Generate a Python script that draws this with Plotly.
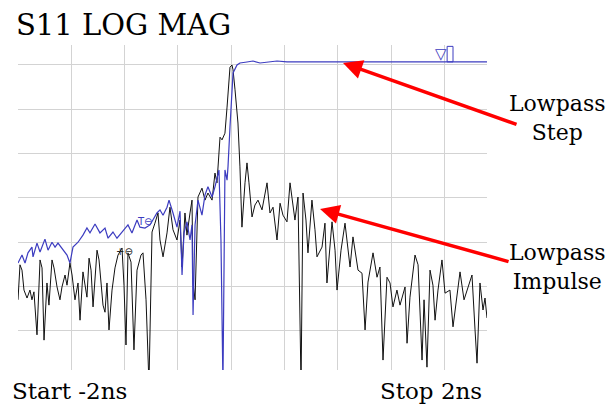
import plotly.graph_objects as go

# ---- data (time in ns, magnitude in dB) ----
impulse_t = [-2.000, -1.983, -1.966, -1.949, -1.923, -1.898, -1.881, -1.864, -1.838, -1.812,
             -1.795, -1.778, -1.753, -1.736, -1.710, -1.693, -1.667, -1.642, -1.625, -1.599,
             -1.582, -1.557, -1.539, -1.514, -1.488, -1.471, -1.446, -1.429, -1.412, -1.394,
             -1.377, -1.360, -1.326, -1.309, -1.292, -1.275, -1.258, -1.241, -1.224, -1.198,
             -1.173, -1.147, -1.113, -1.096, -1.079, -1.062, -1.036, -1.011, -0.985, -0.951,
             -0.934, -0.908, -0.883, -0.857, -0.832, -0.806, -0.789, -0.763, -0.729, -0.704,
             -0.678, -0.644, -0.618, -0.601, -0.576, -0.559, -0.533, -0.516, -0.507, -0.490,
             -0.465, -0.431, -0.405, -0.380, -0.345, -0.320, -0.303, -0.277, -0.260, -0.235,
             -0.217, -0.192, -0.175, -0.166, -0.149, -0.124, -0.107, -0.090, -0.064, -0.047,
             -0.030, -0.004, 0.021, 0.047, 0.081, 0.107, 0.124, 0.149, 0.175, 0.209,
             0.235, 0.260, 0.294, 0.320, 0.345, 0.362, 0.388, 0.414, 0.431, 0.456,
             0.473, 0.507, 0.533, 0.550, 0.593, 0.618, 0.635, 0.678, 0.704, 0.721,
             0.755, 0.789, 0.832, 0.857, 0.900, 0.934, 0.960, 0.985, 1.028, 1.062,
             1.087, 1.113, 1.147, 1.173, 1.198, 1.232, 1.258, 1.301, 1.318, 1.343,
             1.386, 1.412, 1.446, 1.463, 1.488, 1.514, 1.539, 1.557, 1.582, 1.616,
             1.642, 1.684, 1.710, 1.744, 1.770, 1.804, 1.829, 1.872, 1.898, 1.915,
             1.940, 1.966, 1.983, 2.000]
impulse_db = [-53.0, -45.1, -46.3, -50.8, -52.6, -50.8, -53.0, -51.2, -60.9, -44.0,
              -45.8, -62.1, -49.2, -54.2, -44.0, -45.8, -50.1, -53.0, -50.1, -47.4,
              -49.7, -44.7, -47.4, -53.0, -49.2, -57.6, -46.7, -49.7, -52.4, -43.6,
              -46.3, -54.6, -41.8, -44.0, -49.7, -54.2, -55.8, -49.2, -59.8, -50.8,
              -45.8, -42.9, -41.3, -49.7, -63.2, -42.4, -44.5, -64.3, -46.3, -42.9,
              -42.4, -53.0, -72.0, -37.7, -35.7, -33.4, -39.5, -43.3, -37.9, -32.1,
              -37.2, -39.5, -35.0, -45.6, -33.4, -38.4, -33.4, -30.5, -49.2, -53.0,
              -29.8, -27.8, -30.5, -28.9, -30.5, -24.4, -26.6, -16.3, -16.9, -15.4,
              -9.5, -0.5, 0.0, -1.1, -5.6, -13.1, -23.0, -36.6, -26.6, -22.1,
              -26.6, -34.3, -31.6, -30.5, -32.7, -29.3, -26.6, -33.4, -32.1, -39.5,
              -31.2, -33.9, -35.4, -26.6, -32.1, -35.0, -29.8, -72.0, -28.9, -35.0,
              -42.4, -30.5, -37.2, -43.3, -41.1, -35.7, -49.2, -35.4, -41.8, -50.8,
              -41.8, -35.7, -45.6, -38.8, -46.3, -47.0, -59.8, -49.0, -42.4, -47.9,
              -45.6, -66.6, -47.9, -49.2, -54.6, -50.8, -54.2, -50.1, -62.8, -52.4,
              -42.9, -45.1, -66.6, -53.0, -68.2, -46.3, -49.7, -57.6, -50.8, -44.0,
              -51.5, -50.8, -59.1, -51.9, -46.7, -53.0, -50.8, -47.4, -59.8, -67.3,
              -49.2, -55.3, -52.6, -57.1]

step_t = [-2.000, -1.966, -1.940, -1.915, -1.881, -1.872, -1.838, -1.812, -1.770, -1.744,
          -1.710, -1.684, -1.659, -1.625, -1.582, -1.557, -1.531, -1.488, -1.446, -1.412,
          -1.386, -1.343, -1.301, -1.258, -1.232, -1.190, -1.156, -1.113, -1.062, -1.028,
          -0.985, -0.960, -0.917, -0.874, -0.815, -0.789, -0.763, -0.729, -0.712, -0.678,
          -0.644, -0.618, -0.601, -0.584, -0.559, -0.533, -0.516, -0.507, -0.490, -0.465,
          -0.431, -0.405, -0.380, -0.345, -0.320, -0.286, -0.269, -0.252, -0.243, -0.235,
          -0.217, -0.209, -0.192, -0.175, -0.166, -0.132, -0.107, -0.047, 0.004, 0.064,
          0.149, 0.209, 0.294, 0.405, 0.576, 0.746, 0.917, 1.087, 1.258, 1.429,
          1.599, 1.770, 2.000]
step_db = [-44.7, -42.9, -44.7, -42.4, -41.1, -43.3, -40.2, -42.2, -39.3, -41.8,
           -40.0, -41.1, -40.2, -41.3, -42.9, -44.7, -41.1, -40.0, -38.4, -36.8,
           -37.9, -35.9, -37.9, -36.8, -39.1, -37.7, -39.1, -37.7, -36.1, -37.9,
           -35.0, -36.6, -36.8, -36.1, -33.4, -32.7, -33.9, -32.1, -30.5, -33.4,
           -36.6, -33.0, -47.4, -37.9, -35.4, -39.5, -36.1, -56.4, -36.1, -30.5,
           -33.9, -29.3, -27.5, -29.8, -27.5, -23.7, -39.5, -72.0, -53.0, -23.7,
           -26.0, -23.0, -14.0, -5.6, -1.8, 0.0, 0.45, 0.68, 0.9, 0.45,
           0.68, 0.9, 0.68, 0.68, 0.8, 0.8, 0.7, 0.7, 0.7, 0.7,
           0.7, 0.7, 0.7]

title_text = "S11 LOG MAG"
start_label = "Start -2ns"
stop_label = "Stop 2ns"

FONT = "DejaVu Serif, serif"
BLUE = "#3c3cc0"

fig = go.Figure()
fig.add_trace(go.Scatter(x=impulse_t, y=impulse_db, mode="lines",
                         line=dict(color="#111111", width=1), name="Lowpass Impulse",
                         hoverinfo="skip"))
fig.add_trace(go.Scatter(x=step_t, y=step_db, mode="lines",
                         line=dict(color=BLUE, width=1.2), name="Lowpass Step",
                         hoverinfo="skip"))

annotations = [
    dict(text=title_text, xref="paper", yref="paper", x=-0.0085, y=1.062,
         xanchor="left", yanchor="middle", showarrow=False,
         font=dict(family=FONT, size=29, color="black")),
    dict(text=start_label, xref="paper", yref="paper", x=-0.017, y=-0.065,
         xanchor="left", yanchor="middle", showarrow=False,
         font=dict(family=FONT, size=23, color="black")),
    dict(text=stop_label, xref="paper", yref="paper", x=0.9936, y=-0.065,
         xanchor="right", yanchor="middle", showarrow=False,
         font=dict(family=FONT, size=23, color="black")),
    dict(text="Lowpass<br>Step", xref="paper", yref="paper", x=1.149, y=0.775,
         xanchor="center", yanchor="middle", showarrow=False,
         font=dict(family=FONT, size=22, color="black")),
    dict(text="Lowpass<br>Impulse", xref="paper", yref="paper", x=1.149, y=0.317,
         xanchor="center", yanchor="middle", showarrow=False,
         font=dict(family=FONT, size=22, color="black")),
    # red arrows
    dict(x=0.772, y=0.45, xref="x", yref="y", ax=175, ay=62, text="",
         showarrow=True, arrowhead=2, arrowsize=1.1, arrowwidth=3.5, arrowcolor="#ff0000"),
    dict(x=0.576, y=-32.5, xref="x", yref="y", ax=190, ay=53, text="",
         showarrow=True, arrowhead=2, arrowsize=1.1, arrowwidth=3.5, arrowcolor="#ff0000"),
    # instrument markers
    dict(text="▽", xref="x", yref="y", x=1.61, y=2.4, showarrow=False,
         font=dict(family="DejaVu Sans", size=15, color=BLUE)),
    dict(text="T⊖", xref="x", yref="y", x=-0.92, y=-35.4, showarrow=False,
         font=dict(family="DejaVu Sans", size=10, color=BLUE)),
    dict(text="+⊖", xref="x", yref="y", x=-1.09, y=-42.0, showarrow=False,
         font=dict(family="DejaVu Sans", size=10, color="#222222")),
]

shapes = [
    # small bracket box of the reference marker flag
    dict(type="rect", xref="x", yref="y", x0=1.66, x1=1.71, y0=0.7, y1=4.2,
         line=dict(color=BLUE, width=1), fillcolor="rgba(0,0,0,0)"),
]

fig.update_layout(
    width=606, height=408,
    margin=dict(l=18, r=119, t=45, b=38),
    paper_bgcolor="white", plot_bgcolor="white",
    showlegend=False,
    annotations=annotations,
    shapes=shapes,
    xaxis=dict(range=[-2, 2], tick0=-2, dtick=0.4546, showticklabels=False,
               showgrid=True, gridcolor="#d3d3d3", gridwidth=1, zeroline=False,
               showline=False, ticks=""),
    yaxis=dict(range=[-68.84, 4.51], tick0=0, dtick=10, showticklabels=False,
               showgrid=True, gridcolor="#d3d3d3", gridwidth=1, zeroline=False,
               showline=False, ticks=""),
)

fig.write_html("out.html", config={"displayModeBar": False},
               post_script="document.body.style.margin='0';document.body.style.padding='0';")
